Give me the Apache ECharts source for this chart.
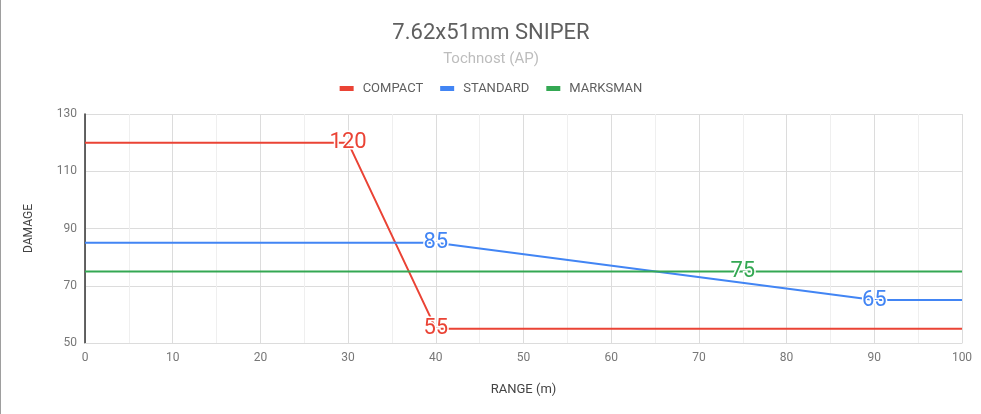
<!DOCTYPE html>
<html>
<head>
<meta charset="utf-8">
<script src="https://cdn.jsdelivr.net/npm/echarts@6/dist/echarts.min.js"></script>
<style>
  html, body { margin: 0; padding: 0; background: #fff; }
  #chart { width: 980px; height: 414px; border-left: 1px solid #9e9e9e; }
</style>
</head>
<body>
<div id="chart"></div>
<script>
// range (m) / damage points for each barrel
var compact = [[0, 120], [30, 120], [40, 55], [100, 55]];
var standard = [[0, 85], [40, 85], [90, 65], [100, 65]];
var marksman = [[0, 75], [75, 75], [100, 75]];
// which point of each series carries its value label
var compactLabels = [1, 2];
var standardLabels = [1, 2];
var marksmanLabels = [1];

var colors = ['#ea4335', '#4285f4', '#34a853'];

function withLabels(points, idx, color) {
    return points.map(function (p, i) {
        var item = { value: p };
        if (idx.indexOf(i) >= 0) {
            item.label = {
                show: true,
                position: 'inside',
                color: color,
                fontSize: 22,
                fontFamily: 'Roboto',
                textBorderColor: '#fff',
                textBorderWidth: 3,
                formatter: function (e) { return e.value[1]; }
            };
        }
        return item;
    });
}

function lineSeries(name, points, idx, color) {
    return {
        name: name,
        type: 'line',
        data: withLabels(points, idx, color),
        color: color,
        symbol: 'circle',
        symbolSize: 0,
        showSymbol: true,
        lineStyle: { width: 2, color: color },
        emphasis: { disabled: true }
    };
}

var myChart = echarts.init(document.getElementById('chart'));
var option = {
    animation: false,
    textStyle: { fontFamily: 'Roboto' },
    title: {
        text: '7.62x51mm SNIPER',
        subtext: 'Tochnost (AP)',
        left: 'center',
        top: 17,
        itemGap: 8,
        textStyle: { fontSize: 22, fontWeight: 'normal', color: '#5f5f5f', fontFamily: 'Roboto' },
        subtextStyle: { fontSize: 15, color: '#bdbdbd', fontFamily: 'Roboto' }
    },
    legend: {
        top: 77,
        left: 'center',
        itemWidth: 14,
        itemHeight: 5,
        itemGap: 17,
        icon: 'rect',
        textStyle: { fontSize: 13, color: '#5f5f5f', padding: [0, 0, 0, 4] },
        data: ['COMPACT', 'STANDARD', 'MARKSMAN']
    },
    grid: { left: 84, right: 19, top: 114, bottom: 71 },
    xAxis: {
        type: 'value',
        min: 0,
        max: 100,
        interval: 10,
        name: 'RANGE (m)',
        nameLocation: 'middle',
        nameGap: 40,
        nameTextStyle: { fontSize: 13, color: '#444' },
        axisLine: { show: true, lineStyle: { color: '#dcdcdc' } },
        axisTick: { show: false },
        axisLabel: { color: '#777', fontSize: 12, margin: 9 },
        splitLine: { show: true, lineStyle: { color: '#dcdcdc', width: 1 } },
        minorTick: { show: false, splitNumber: 2 },
        minorSplitLine: { show: true, lineStyle: { color: '#efefef', width: 1 } }
    },
    yAxis: {
        type: 'value',
        min: 50,
        max: 130,
        interval: 20,
        name: 'DAMAGE',
        nameLocation: 'middle',
        nameGap: 50,
        nameTextStyle: { fontSize: 12, color: '#444' },
        axisLine: { show: true, lineStyle: { color: '#333', width: 1.5 } },
        axisTick: { show: false },
        axisLabel: { color: '#777', fontSize: 12, margin: 8 },
        splitLine: { show: true, lineStyle: { color: '#dcdcdc', width: 1 } }
    },
    series: [
        lineSeries('COMPACT', compact, compactLabels, colors[0]),
        lineSeries('STANDARD', standard, standardLabels, colors[1]),
        lineSeries('MARKSMAN', marksman, marksmanLabels, colors[2])
    ]
};
myChart.setOption(option);
window.addEventListener('resize', function () {
    myChart.resize();
});
</script>
</body>
</html>
